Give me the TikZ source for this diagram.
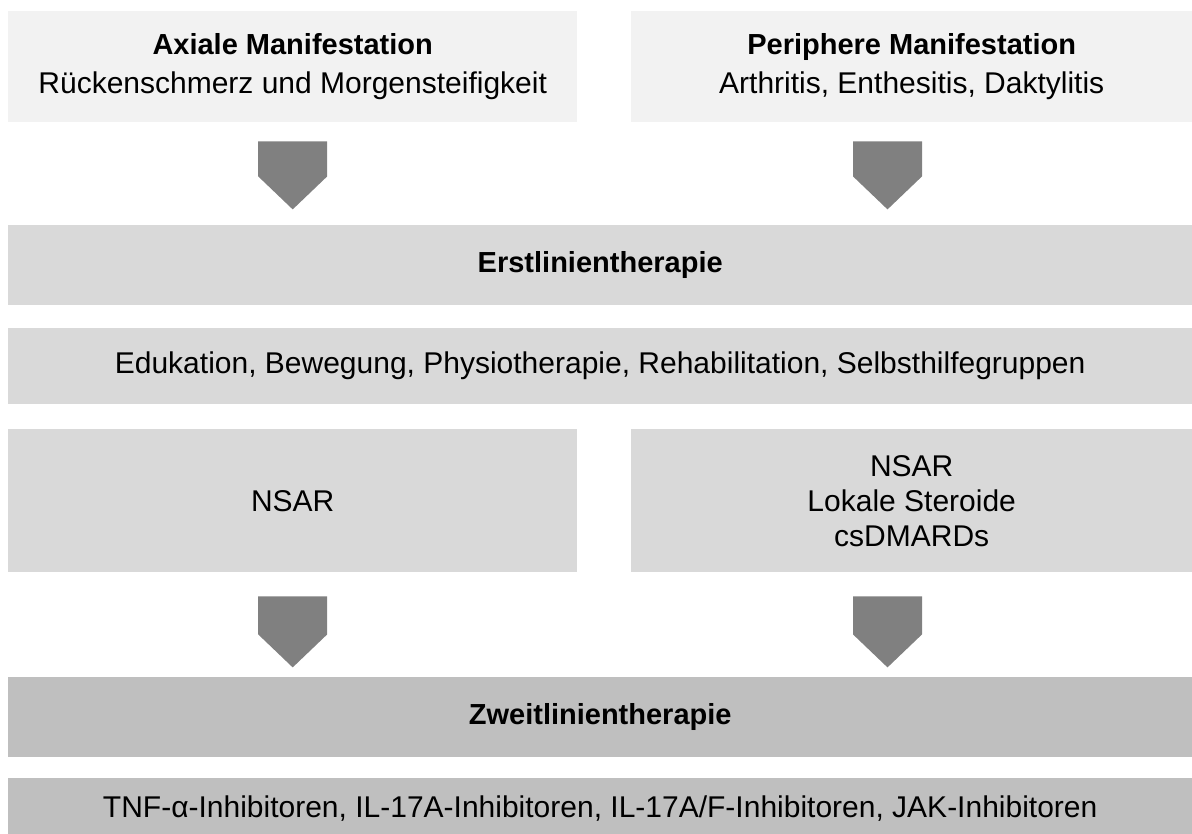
\documentclass[tikz,border=0pt]{standalone}
\usepackage{fontspec}
\setmainfont{Liberation Sans}
\usepackage{xcolor}
\usetikzlibrary{calc}
\usetikzlibrary{positioning}

\definecolor{boxlight}{HTML}{F2F2F2}
\definecolor{boxmid}{HTML}{D9D9D9}
\definecolor{boxdark}{HTML}{BFBFBF}
\definecolor{arrowgray}{HTML}{808080}

\newcommand{\boxhead}[1]{{\fontsize{29}{35}\selectfont\bfseries #1}}

\tikzset{
    flowbox/.style = {rectangle, inner sep=0pt, anchor=north west, align=center,
        font=\fontsize{30}{35}\selectfont},
    lightbox/.style = {flowbox, fill=boxlight},
    midbox/.style = {flowbox, fill=boxmid},
    darkbox/.style = {flowbox, fill=boxdark},
}

% block arrow: #1 = top centre, #2 = shoulder height, #3 = tip height
\newcommand{\blockarrow}[3]{%
    \fill[arrowgray] ($(#1)+(-34.5,0)$) -- ($(#1)+(34.5,0)$) -- ($(#1)+(34.5,#2)$)
        -- ($(#1)+(0,#3)$) -- ($(#1)+(-34.5,#2)$) -- cycle;}

\begin{document}
\begin{tikzpicture}[x=1pt, y=-1pt]
\useasboundingbox (0,0) rectangle (1192,834);

    \node[lightbox, minimum width=569pt, minimum height=111pt] (axial) at (8, 11)
        {\boxhead{Axiale Manifestation}\\[4pt]Rückenschmerz und Morgensteifigkeit};
    \node[lightbox, minimum width=561pt, minimum height=111pt] (periph) at (631, 11)
        {\boxhead{Periphere Manifestation}\\[4pt]Arthritis, Enthesitis, Daktylitis};

    \node[midbox, minimum width=1184pt, minimum height=80pt] (erst) at (8, 225)
        {\boxhead{Erstlinientherapie}};
    \node[midbox, minimum width=1184pt, minimum height=76pt] (basis) at (8, 328)
        {Edukation, Bewegung, Physiotherapie, Rehabilitation, Selbsthilfegruppen};

    \node[midbox, minimum width=569pt, minimum height=143pt] (nsarax) at (8, 429)
        {NSAR};
    \node[midbox, minimum width=561pt, minimum height=143pt] (nsarper) at (631, 429)
        {NSAR\\Lokale Steroide\\csDMARDs};

    \node[darkbox, minimum width=1184pt, minimum height=80pt] (zweit) at (8, 677)
        {\boxhead{Zweitlinientherapie}};
    \node[darkbox, minimum width=1184pt, minimum height=60pt] (biol) at (8, 778)
        {TNF-α-Inhibitoren, IL-17A-Inhibitoren, IL-17A/F-Inhibitoren, JAK-Inhibitoren};

    % arrows
    \coordinate (a1) at ($(axial.south)+(0,19)$);
    \coordinate (a2) at ($(periph.south west)+(256.5,19)$);
    \coordinate (a3) at ($(nsarax.south)+(0,24)$);
    \coordinate (a4) at ($(nsarper.south west)+(256.5,24)$);
    \blockarrow{a1}{35}{68}
    \blockarrow{a2}{35}{68}
    \blockarrow{a3}{38}{71}
    \blockarrow{a4}{38}{71}

\end{tikzpicture}
\end{document}
